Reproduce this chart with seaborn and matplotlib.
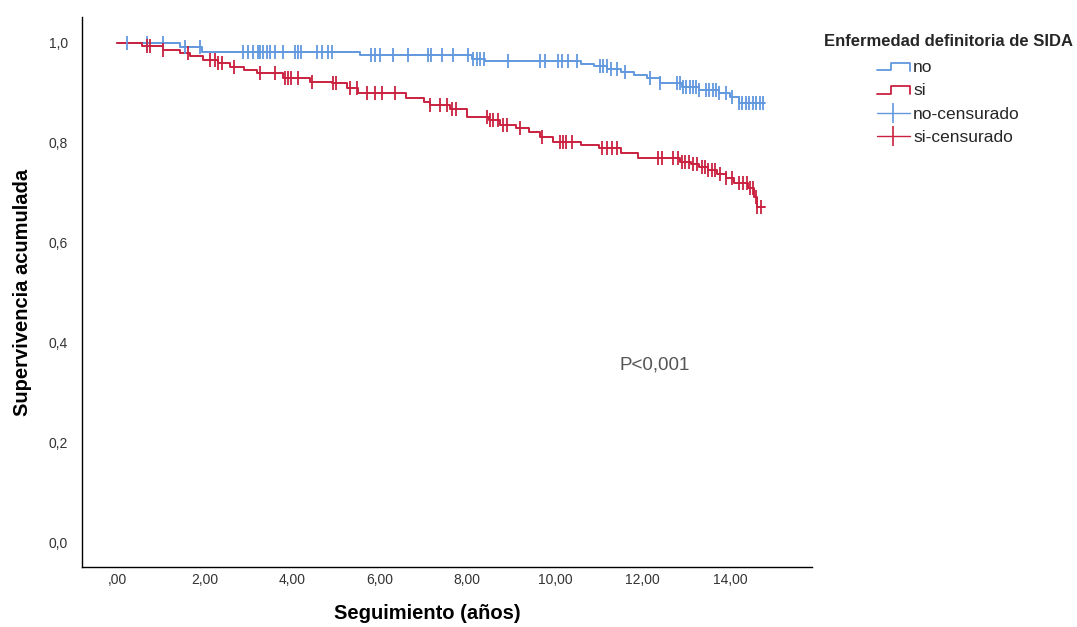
import numpy as np
import pandas as pd
import matplotlib
matplotlib.use("Agg")
import matplotlib.pyplot as plt
import seaborn as sns
from matplotlib.lines import Line2D
from matplotlib.legend_handler import HandlerBase

# ---------------- data ----------------
groups = ["no", "si"]
colors = {"no": "#6198DE", "si": "#C9213F"}

no_times = [0, 1.44, 1.93, 5.55, 8.1, 8.4, 10.6, 10.9, 11.2, 11.5, 11.8, 12.1, 12.4,
            12.9, 13.3, 13.75, 14.0, 14.2, 14.8]
no_surv = [1.0, 0.992, 0.982, 0.975, 0.968, 0.963, 0.958, 0.953, 0.948, 0.942, 0.936,
           0.930, 0.920, 0.912, 0.906, 0.900, 0.892, 0.880, 0.880]

si_times = [0, 0.56, 1.05, 1.44, 1.67, 1.97, 2.3, 2.58, 2.9, 3.2, 3.8, 4.4, 4.9, 5.25,
            5.5, 6.6, 7.0, 7.15, 7.6, 8.0, 8.5, 8.75, 9.1, 9.4, 9.65, 9.95, 10.6, 11.0,
            11.5, 11.9, 12.85, 13.1, 13.3, 13.5, 13.7, 13.9, 14.1, 14.4, 14.55, 14.62, 14.8]
si_surv = [1.0, 0.993, 0.986, 0.979, 0.973, 0.966, 0.959, 0.952, 0.945, 0.939, 0.929,
           0.922, 0.919, 0.909, 0.900, 0.889, 0.882, 0.876, 0.868, 0.852, 0.846, 0.836,
           0.829, 0.822, 0.812, 0.802, 0.796, 0.789, 0.779, 0.769, 0.762, 0.757, 0.752,
           0.745, 0.738, 0.730, 0.719, 0.709, 0.692, 0.672, 0.672]

no_censored = [0.22, 0.68, 1.06, 1.55, 1.9, 2.88, 3.0, 3.11, 3.22, 3.26, 3.34, 3.42, 3.49,
               3.61, 3.80, 4.06, 4.14, 4.21, 4.56, 4.67, 4.82, 4.90, 5.81, 5.88, 6.0, 6.31,
               6.65, 7.11, 7.18, 7.41, 7.68, 8.02, 8.14, 8.21, 8.29, 8.37, 8.93, 9.66, 9.77,
               10.08, 10.15, 10.3, 10.5, 11.03, 11.1, 11.18, 11.29, 11.41, 11.6, 12.17, 12.4,
               12.78, 12.85, 12.92, 13.0, 13.08, 13.15, 13.23, 13.3, 13.45, 13.52, 13.6,
               13.68, 13.75, 13.9, 14.05, 14.2, 14.28, 14.36, 14.44, 14.52, 14.6, 14.68, 14.75]
si_censored = [0.68, 0.75, 1.06, 1.63, 2.12, 2.24, 2.31, 2.39, 2.66, 3.26, 3.61, 3.84, 3.91,
               3.98, 4.14, 4.45, 4.94, 5.01, 5.32, 5.47, 5.70, 5.89, 6.04, 6.35, 7.15, 7.37,
               7.53, 7.64, 7.75, 8.44, 8.52, 8.59, 8.70, 8.82, 8.9, 9.2, 9.7, 10.11, 10.19,
               10.26, 10.38, 11.07, 11.18, 11.3, 11.41, 12.36, 12.44, 12.7, 12.8, 12.9, 12.98,
               13.05, 13.16, 13.25, 13.35, 13.43, 13.5, 13.58, 13.65, 13.77, 13.9, 14.05,
               14.2, 14.3, 14.38, 14.45, 14.52, 14.58, 14.62, 14.7]

x_ticks = [0, 2, 4, 6, 8, 10, 12, 14]
x_ticklabels = [",00", "2,00", "4,00", "6,00", "8,00", "10,00", "12,00", "14,00"]
y_ticks = [0.0, 0.2, 0.4, 0.6, 0.8, 1.0]
y_ticklabels = ["0,0", "0,2", "0,4", "0,6", "0,8", "1,0"]

# ---------------- frames ----------------
curve_df = pd.concat([
    pd.DataFrame({"time": no_times, "surv": no_surv, "group": "no"}),
    pd.DataFrame({"time": si_times, "surv": si_surv, "group": "si"}),
], ignore_index=True)


def surv_at(times, surv, tc):
    idx = np.searchsorted(np.asarray(times), np.asarray(tc), side="right") - 1
    return np.asarray(surv)[idx]


cens_df = pd.concat([
    pd.DataFrame({"time": no_censored, "surv": surv_at(no_times, no_surv, no_censored), "group": "no"}),
    pd.DataFrame({"time": si_censored, "surv": surv_at(si_times, si_surv, si_censored), "group": "si"}),
], ignore_index=True)

# ---------------- plot ----------------
sns.set_style("white")
plt.rcParams["font.family"] = ["Liberation Sans", "DejaVu Sans"]

fig = plt.figure(figsize=(10.77, 6.27), dpi=100)
ax = fig.add_axes([82 / 1077, 1 - 567 / 627, 730 / 1077, 550 / 627])

sns.lineplot(data=curve_df, x="time", y="surv", hue="group", palette=colors,
             hue_order=groups, drawstyle="steps-post", estimator=None, sort=False,
             linewidth=1.4, legend=False, ax=ax)
for g in groups:
    sub = cens_df[cens_df["group"] == g]
    ax.plot(sub["time"], sub["surv"], linestyle="none", marker="|",
            markersize=9.5, markeredgewidth=1.3, color=colors[g])

ax.set_xlim(-0.80, 15.87)
ax.set_ylim(-0.05, 1.052)
ax.set_xticks(x_ticks)
ax.set_xticklabels(x_ticklabels)
ax.set_yticks(y_ticks)
ax.set_yticklabels(y_ticklabels)
ax.tick_params(axis="both", length=0, labelsize=10, colors="#333333")
ax.tick_params(axis="x", pad=4)
ax.tick_params(axis="y", pad=10)

for s in ["top", "right"]:
    ax.spines[s].set_visible(False)
for s in ["left", "bottom"]:
    ax.spines[s].set_color("black")
    ax.spines[s].set_linewidth(1.0)

ax.set_xlabel("Seguimiento (años)", fontsize=14.5, fontweight="bold", color="black")
ax.set_ylabel("Supervivencia acumulada", fontsize=14.5, fontweight="bold", color="black")
ax.xaxis.set_label_coords((427 - 82) / 730, -37 / 550)
ax.yaxis.set_label_coords(-50 / 730, 0.5)

ax.text(12.28, 0.355, "P<0,001", fontsize=13.5, color="#555555", ha="center", va="center")


class StepHandler(HandlerBase):
    def create_artists(self, legend, orig_handle, xdescent, ydescent, width, height,
                       fontsize, trans):
        xs = np.array([0.0, 0.45, 0.45, 1.0, 1.0]) * width - xdescent
        ys = np.array([0.15, 0.15, 0.75, 0.75, 0.1]) * height - ydescent
        ln = Line2D(xs, ys, color=orig_handle.get_color(), lw=1.3)
        ln.set_transform(trans)
        return [ln]


h_no = Line2D([], [], color=colors["no"], lw=1.3)
h_si = Line2D([], [], color=colors["si"], lw=1.3)
h_noc = Line2D([0], [0], color=colors["no"], lw=1.0, marker="|", markersize=15, markeredgewidth=1.2)
h_sic = Line2D([0], [0], color=colors["si"], lw=1.0, marker="|", markersize=15, markeredgewidth=1.2)

leg = fig.legend([h_no, h_si, h_noc, h_sic], ["no", "si", "no-censurado", "si-censurado"],
                 title="Enfermedad definitoria de SIDA", loc="upper left",
                 bbox_to_anchor=(815 / 1077, 1 - 25 / 627), frameon=False,
                 fontsize=12.5, title_fontproperties={"weight": "bold", "size": 12.0},
                 handlelength=1.9, handletextpad=0.2, labelspacing=0.48, borderpad=0,
                 numpoints=1, handler_map={h_no: StepHandler(), h_si: StepHandler()})
leg._legend_box.sep = 8

fig.savefig("out.png", dpi=100)
